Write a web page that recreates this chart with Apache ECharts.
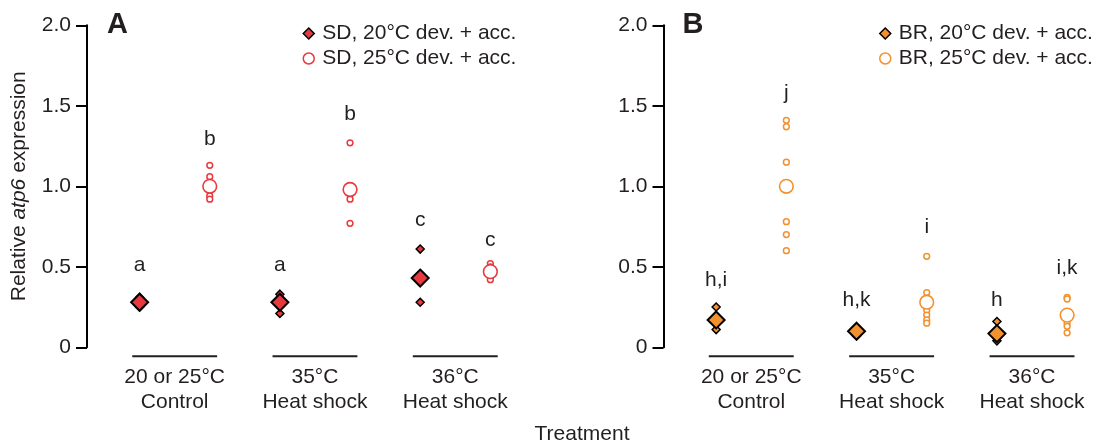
<!DOCTYPE html>
<html>
<head>
<meta charset="utf-8">
<script src="https://cdn.jsdelivr.net/npm/echarts@6/dist/echarts.min.js"></script>
<style>
  html, body { margin: 0; padding: 0; background: #fff; }
  #chart { width: 1097px; height: 445px; }
</style>
</head>
<body>
<div id="chart"></div>
<script>
// groups along the x axis
const groupTemps = ['20 or 25°C', '35°C', '36°C']
const groupKinds = ['Control', 'Heat shock', 'Heat shock']
const yTickLabels = ['0', '0.5', '1.0', '1.5', '2.0']

// panel A, SD
const sd20Points = [[0.31, 0.28, 0.25], [0.33, 0.29, 0.21], [0.61, 0.41, 0.28]]
const sd20Means = [0.28, 0.28, 0.43]
const sd25Points = [[1.13, 1.06, 0.94, 0.92], [1.27, 0.95, 0.92, 0.77], [0.52, 0.5, 0.44, 0.42]]
const sd25Means = [1.0, 0.98, 0.47]
const sdLetters = ['a', 'b', 'a', 'b', 'c', 'c']
const sdLetterY = [0.51, 1.295, 0.51, 1.447, 0.79, 0.665]

// panel B, BR
const br20Points = [[0.25, 0.16, 0.11], [0.12, 0.1, 0.07], [0.16, 0.06, 0.04]]
const br20Means = [0.17, 0.1, 0.085]
const br25Points = [[1.41, 1.37, 1.15, 0.78, 0.7, 0.6], [0.565, 0.34, 0.23, 0.2, 0.17, 0.15], [0.31, 0.3, 0.15, 0.13, 0.09]]
const br25Means = [1.0, 0.28, 0.2]
const brLetters = ['h,i', 'j', 'h,k', 'i', 'h', 'i,k']
const brLetterY = [0.418, 1.58, 0.294, 0.743, 0.294, 0.493]

const ink = '#231f20'
const red = '#e8393f'
const orange = '#f3912f'
const font = '"Liberation Sans", Arial, Helvetica, sans-serif'

const chart = echarts.init(document.getElementById('chart'))

// position 1..6: group g, 20°C at 2g+1, 25°C at 2g+2
function pointData(groups, offset) {
  return groups.flatMap((vals, g) => vals.map(v => [2 * g + offset, v]))
}
function meanData(means, offset) {
  return means.map((v, g) => [2 * g + offset, v])
}

function diamonds(name, axis, color, groups, means) {
  return [
    {
      name, type: 'scatter', xAxisIndex: axis, yAxisIndex: axis, z: 2, silent: true,
      symbol: 'diamond', symbolSize: 8,
      itemStyle: { color, borderColor: '#000', borderWidth: 1.5, opacity: 1 },
      data: pointData(groups, 1)
    },
    {
      name, type: 'scatter', xAxisIndex: axis, yAxisIndex: axis, z: 4, silent: true,
      symbol: 'diamond', symbolSize: 17,
      itemStyle: { color, borderColor: '#000', borderWidth: 2, opacity: 1 },
      data: meanData(means, 1)
    }
  ]
}

function circles(name, axis, color, groups, means) {
  return [
    {
      name, type: 'scatter', xAxisIndex: axis, yAxisIndex: axis, z: 2, silent: true,
      symbol: 'circle', symbolSize: 5.8,
      itemStyle: { color: '#fff', borderColor: color, borderWidth: 1.5, opacity: 1 },
      data: pointData(groups, 2)
    },
    {
      name, type: 'scatter', xAxisIndex: axis, yAxisIndex: axis, z: 4, silent: true,
      symbol: 'circle', symbolSize: 13.7,
      itemStyle: { color: '#fff', borderColor: color, borderWidth: 1.6, opacity: 1 },
      data: meanData(means, 2)
    }
  ]
}

function letterSeries(axis, letters, heights) {
  return {
    type: 'custom', xAxisIndex: axis, yAxisIndex: axis, clip: false, silent: true, z: 5,
    data: heights.map((h, i) => [i + 1, h]),
    renderItem: (params, api) => {
      const p = api.coord([api.value(0), api.value(1)])
      return {
        type: 'text', x: p[0], y: p[1],
        style: {
          text: letters[params.dataIndex], fill: ink, fontSize: 21, fontFamily: font,
          align: 'center', verticalAlign: 'middle'
        }
      }
    }
  }
}

function groupSeries(axis) {
  return {
    type: 'custom', xAxisIndex: axis, yAxisIndex: axis, clip: false, silent: true,
    data: groupTemps.map((t, g) => [2 * g + 1.5, 0]),
    renderItem: (params, api) => {
      const g = params.dataIndex
      const l = api.coord([api.value(0) - 0.605, 0])
      const r = api.coord([api.value(0) + 0.605, 0])
      return {
        type: 'group',
        children: [
          {
            type: 'line',
            shape: { x1: l[0], y1: l[1] + 9, x2: r[0], y2: l[1] + 9 },
            style: { stroke: ink, lineWidth: 2 }
          },
          {
            type: 'text', x: (l[0] + r[0]) / 2, y: l[1] + 17,
            style: {
              text: groupTemps[g] + '\n' + groupKinds[g], fill: ink, fontSize: 21,
              fontFamily: font, lineHeight: 25, align: 'center', verticalAlign: 'top'
            }
          }
        ]
      }
    }
  }
}

function yAxis(grid, withName) {
  return {
    type: 'value', gridIndex: grid, min: 0, max: 2, interval: 0.5,
    axisLine: { show: true, lineStyle: { color: '#000', width: 2 } },
    axisTick: { show: true, length: 11, lineStyle: { color: '#000', width: 2 } },
    splitLine: { show: false },
    axisLabel: {
      margin: 16, fontSize: 21, color: ink, fontFamily: font,
      formatter: v => yTickLabels[Math.round(v / 0.5)]
    },
    name: withName ? 'Relative {i|atp6} expression' : '',
    nameLocation: 'middle',
    nameGap: 57,
    nameTextStyle: {
      fontSize: 21, color: ink, fontFamily: font,
      rich: { i: { fontStyle: 'italic', fontSize: 21, color: ink, fontFamily: font } }
    }
  }
}

function xAxis(grid) {
  return { type: 'value', gridIndex: grid, min: 0.25, max: 6.4, show: false }
}

function legend(left, names, color) {
  return {
    left, top: 23, padding: 0, orient: 'vertical', itemGap: 4,
    itemWidth: 11, itemHeight: 11,
    selectedMode: false,
    textStyle: { fontSize: 21, color: ink, fontFamily: font, padding: [0, 0, 0, 3] },
    data: [
      { name: names[0], icon: 'diamond', itemStyle: { color, borderColor: '#000', borderWidth: 1.5 } },
      { name: names[1], icon: 'circle', itemStyle: { color: '#fff', borderColor: color, borderWidth: 1.5 } }
    ]
  }
}

const sdNames = ['SD, 20°C dev. + acc.', 'SD, 25°C dev. + acc.']
const brNames = ['BR, 20°C dev. + acc.', 'BR, 25°C dev. + acc.']

const option = {
  backgroundColor: '#fff',
  animation: false,
  grid: [
    { left: 87, top: 25.3, width: 431.4, height: 322, containLabel: false, outerBoundsMode: 'none' },
    { left: 663.5, top: 25.3, width: 431.7, height: 322, containLabel: false, outerBoundsMode: 'none' }
  ],
  xAxis: [xAxis(0), xAxis(1)],
  yAxis: [yAxis(0, true), yAxis(1, false)],
  legend: [legend(302.5, sdNames, red), legend(879, brNames, orange)],
  graphic: [
    { type: 'text', x: 107, y: 25, style: { text: 'A', fontSize: 29, fontWeight: 'bold', fontFamily: font, fill: ink, verticalAlign: 'middle' } },
    { type: 'text', x: 682.6, y: 25, style: { text: 'B', fontSize: 29, fontWeight: 'bold', fontFamily: font, fill: ink, verticalAlign: 'middle' } },
    { type: 'text', x: 582, y: 434, style: { text: 'Treatment', fontSize: 21, fontFamily: font, fill: ink, align: 'center', verticalAlign: 'middle' } }
  ],
  series: [
    ...diamonds(sdNames[0], 0, red, sd20Points, sd20Means),
    ...circles(sdNames[1], 0, red, sd25Points, sd25Means),
    ...diamonds(brNames[0], 1, orange, br20Points, br20Means),
    ...circles(brNames[1], 1, orange, br25Points, br25Means),
    letterSeries(0, sdLetters, sdLetterY),
    letterSeries(1, brLetters, brLetterY),
    groupSeries(0),
    groupSeries(1)
  ]
}

chart.setOption(option)
</script>
</body>
</html>
